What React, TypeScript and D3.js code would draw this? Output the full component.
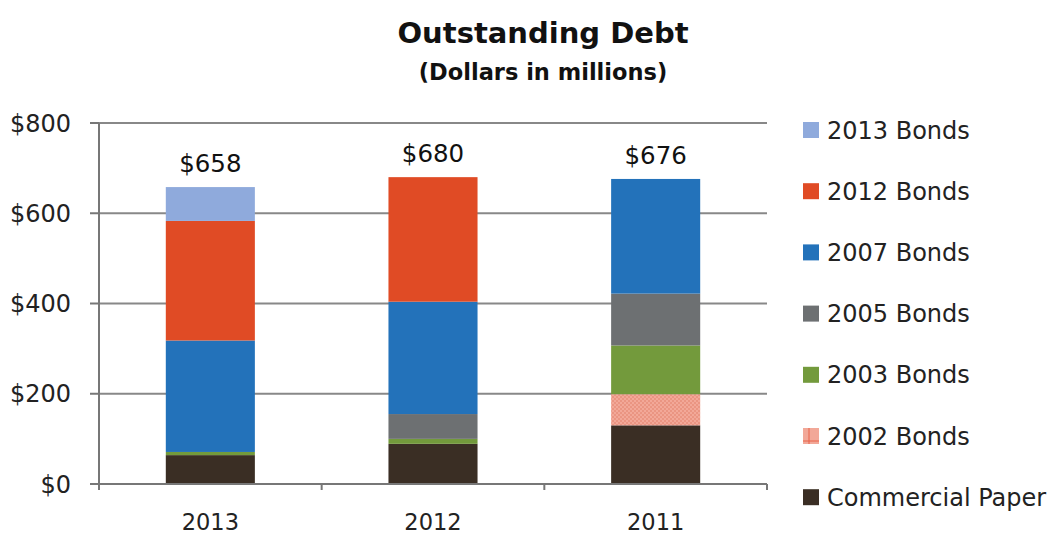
import React from "react";
import * as d3 from "d3";

const years = ["2013", "2012", "2011"];
const seriesNames = ["Commercial Paper", "2002 Bonds", "2003 Bonds", "2005 Bonds", "2007 Bonds", "2012 Bonds", "2013 Bonds"];
const commercialPaper = [64, 89, 130];
const bonds2002 = [0, 0, 69];
const bonds2003 = [7, 11, 108];
const bonds2005 = [0, 55, 115];
const bonds2007 = [247, 249, 254];
const bonds2012 = [265, 276, 0];
const bonds2013 = [75, 0, 0];
const totals = [658, 680, 676];
const yTicks = [0, 200, 400, 600, 800];
const colors = ["#3a2e24", "url(#pat2002)", "#739a3c", "#6d7072", "#2372ba", "#e04b25", "#8faadc"];

const seriesValues = [commercialPaper, bonds2002, bonds2003, bonds2005, bonds2007, bonds2012, bonds2013];

export default function App() {
  const W = 1064, H = 535;
  const left = 99, right = 767, top = 123, bottom = 484;
  const x = d3.scaleBand<string>().domain(years).range([left, right]).paddingInner(0.6).paddingOuter(0.3);
  const band = d3.scaleBand<string>().domain(years).range([left, right]);
  const y = d3.scaleLinear().domain([0, 800]).range([bottom, top]);

  const rows = years.map((yr, i) => {
    const r: any = { year: yr };
    seriesNames.forEach((s, k) => (r[s] = seriesValues[k][i]));
    return r;
  });
  const stack = d3.stack<any>().keys(seriesNames)(rows);
  const font = "'DejaVu Sans', sans-serif";
  const legendOrder = [...seriesNames].reverse();

  return (
    <svg width={W} height={H} style={{ position: "absolute", left: 0, top: 0, background: "#fff" }}>
      <defs>
        <pattern id="pat2002" width="4" height="4" patternUnits="userSpaceOnUse">
          <rect width="4" height="4" fill="#f2a898" />
          <rect width="2" height="2" fill="#ea9582" />
          <rect x="2" y="2" width="2" height="2" fill="#ea9582" />
        </pattern>
        <pattern id="leg2002" width="16" height="16" patternUnits="userSpaceOnUse">
          <rect width="16" height="16" fill="#f2a898" />
          <line x1="0" y1="9" x2="16" y2="9" stroke="#e8634a" strokeWidth="1" />
          <line x1="9" y1="0" x2="9" y2="16" stroke="#e8634a" strokeWidth="1" />
        </pattern>
      </defs>
      <text x={543} y={43} textAnchor="middle" fontFamily={font} fontWeight="bold" fontSize={29} fill="#111">Outstanding Debt</text>
      <text x={543} y={80} textAnchor="middle" fontFamily={font} fontWeight="bold" fontSize={22.5} fill="#111">(Dollars in millions)</text>

      {yTicks.map((t) => (
        <g key={t}>
          {t > 0 && <line x1={left} x2={right} y1={y(t)} y2={y(t)} stroke="#888" strokeWidth={2} />}
          <line x1={left - 9} x2={left} y1={y(t)} y2={y(t)} stroke="#777" strokeWidth={2} />
          <text x={71} y={y(t) + 8.5} textAnchor="end" fontFamily={font} fontSize={24} fill="#222">${t}</text>
        </g>
      ))}

      {stack.map((layer, k) => (
        <g key={layer.key}>
          {layer.map((d, i) =>
            d[1] - d[0] > 0 ? (
              <rect key={i} x={x(years[i])} width={x.bandwidth()} y={y(d[1])} height={y(d[0]) - y(d[1])} fill={colors[k]} />
            ) : null
          )}
        </g>
      ))}

      {years.map((yr, i) => (
        <text key={yr} x={(x(yr) as number) + x.bandwidth() / 2} y={y(totals[i]) - 15} textAnchor="middle" fontFamily={font} fontSize={24.5} fill="#111">${totals[i]}</text>
      ))}

      <line x1={left} x2={left} y1={top} y2={bottom + 6} stroke="#777" strokeWidth={2} />
      <line x1={left - 9} x2={right} y1={bottom} y2={bottom} stroke="#777" strokeWidth={2} />
      {years.map((yr) => (
        <line key={yr} x1={(band(yr) as number) + band.bandwidth()} x2={(band(yr) as number) + band.bandwidth()} y1={bottom} y2={bottom + 6} stroke="#777" strokeWidth={2} />
      ))}
      {years.map((yr) => (
        <text key={yr} x={(x(yr) as number) + x.bandwidth() / 2} y={530} textAnchor="middle" fontFamily={font} fontSize={22.5} fill="#222">{yr}</text>
      ))}

      {legendOrder.map((s, j) => {
        const k = seriesNames.indexOf(s);
        const cy = 130 + j * 61.2;
        return (
          <g key={s}>
            <rect x={803} y={cy - 8} width={16} height={16} fill={k === 1 ? "url(#leg2002)" : colors[k]} />
            <text x={827} y={cy + 8.5} fontFamily={font} fontSize={24} fill="#222">{s}</text>
          </g>
        );
      })}
    </svg>
  );
}
